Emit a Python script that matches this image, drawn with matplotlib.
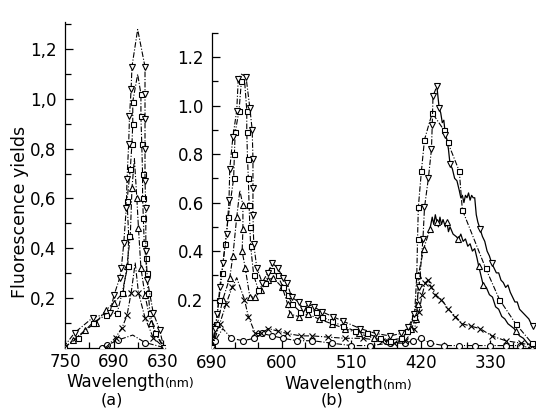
import matplotlib
matplotlib.use("Agg")
import matplotlib.pyplot as plt
import numpy as np

plt.rcParams['font.family'] = ['DejaVu Sans']

# ---------------- panel (a): 750-630 nm ----------------
nv_a_nm = [752, 738, 716, 695, 690, 683, 681, 678, 675, 674, 672, 671, 669, 668, 661,
           652, 652, 652, 652, 652, 651, 651, 649, 642, 634, 629]
nv_a_val = [0.0, 0.06, 0.12, 0.14, 0.21, 0.28, 0.32, 0.42, 0.56, 0.68, 0.82, 0.93, 1.04, 1.13, 1.28,
            1.13, 1.02, 0.92, 0.80, 0.67, 0.56, 0.39, 0.27, 0.14, 0.07, 0.0]

sq_a_nm = [751, 734, 716, 700, 686, 680, 673, 672, 674, 670, 668, 667, 667, 661,
           657, 657, 656, 655, 655, 654, 653, 651, 650, 648, 646, 640, 629]
sq_a_val = [0.0, 0.04, 0.10, 0.13, 0.14, 0.22, 0.33, 0.45, 0.59, 0.72, 0.82, 0.90, 0.99, 1.10,
            1.02, 0.93, 0.82, 0.70, 0.60, 0.52, 0.42, 0.36, 0.30, 0.22, 0.14, 0.06, 0.0]

tr_a_nm = [750, 740, 725, 712, 700, 690, 679, 674, 670, 668, 665, 662, 660, 657, 652, 645, 629]
tr_a_val = [0.0, 0.03, 0.07, 0.10, 0.15, 0.18, 0.22, 0.33, 0.45, 0.64, 0.76, 0.60, 0.48, 0.32, 0.21, 0.10, 0.0]

x_a_nm = [700, 688, 680, 674, 669, 664, 660, 652, 642, 629]
x_a_val = [0.0, 0.04, 0.08, 0.13, 0.22, 0.34, 0.22, 0.12, 0.04, 0.0]

o_a_nm = [705, 698, 685, 667, 652, 629]
o_a_val = [0.0, 0.01, 0.03, 0.05, 0.02, 0.0]

# ---------------- panel (b): 690-270 nm ----------------
nv_b_nm = [690, 686, 683, 680, 676, 671, 668, 667, 663, 658, 656, 652, 646, 641, 638, 637, 637, 637,
           636, 632, 625, 618, 612, 605, 598, 593, 587, 578, 572, 566, 558, 548, 534, 520, 498, 478,
           460, 445, 436, 428, 422, 417, 415, 410, 406, 405, 404, 399]
nv_b_val = [0.0, 0.08, 0.14, 0.25, 0.35, 0.47, 0.61, 0.74, 0.87, 0.98, 1.11, 1.13, 1.12, 0.99, 0.90, 0.78, 0.66, 0.55,
            0.43, 0.33, 0.27, 0.31, 0.35, 0.33, 0.29, 0.27, 0.21, 0.19, 0.16, 0.18, 0.17, 0.15, 0.13, 0.11, 0.08, 0.06,
            0.05, 0.06, 0.085, 0.14, 0.25, 0.45, 0.58, 0.70, 0.82, 0.92, 1.04, 1.08]
# noisy recorder trace on the right of the 400 nm band
nv_b_trace_nm = [399, 396, 394, 392, 390, 388, 386, 384, 382, 379, 376, 373, 370, 368, 366, 364, 362, 360, 358, 356,
                 354, 352, 350, 348, 346, 343, 340, 337, 334, 331, 328, 325, 322, 319, 316, 313, 310, 307, 304, 301,
                 298, 295, 292, 289, 286, 283, 280, 277, 274]
nv_b_trace_val = [1.08, 0.99, 0.97, 0.93, 0.94, 0.88, 0.86, 0.82, 0.76, 0.74, 0.70, 0.69, 0.65, 0.62, 0.63, 0.60, 0.63, 0.62, 0.64, 0.61,
                  0.63, 0.62, 0.62, 0.55, 0.52, 0.49, 0.46, 0.44, 0.40, 0.38, 0.35, 0.33, 0.31, 0.31, 0.28, 0.27, 0.25, 0.26, 0.23, 0.21,
                  0.19, 0.19, 0.16, 0.15, 0.14, 0.13, 0.12, 0.10, 0.09]
nv_b_mk_nm = [396, 388, 382, 343, 328, 274]
nv_b_mk_val = [0.99, 0.88, 0.76, 0.49, 0.35, 0.09]

sq_b_nm = [690, 685, 681, 677, 673, 669, 662, 661, 660, 655, 652, 648, 645, 645, 644, 643, 642, 641, 640,
           636, 630, 622, 613, 605, 598, 592, 586, 576, 566, 555, 548, 535, 520, 505, 490, 472, 460, 445,
           437, 428, 425, 424, 423, 419, 415, 405, 390, 385, 370, 366, 336, 318, 297, 276]
sq_b_val = [0.0, 0.10, 0.20, 0.31, 0.43, 0.54, 0.70, 0.80, 0.89, 0.98, 1.10, 1.11, 0.98, 0.89, 0.78, 0.70, 0.59, 0.50, 0.42,
            0.30, 0.24, 0.27, 0.32, 0.30, 0.25, 0.22, 0.18, 0.15, 0.16, 0.15, 0.13, 0.11, 0.09, 0.07, 0.06, 0.04, 0.03, 0.04,
            0.07, 0.13, 0.30, 0.45, 0.58, 0.73, 0.86, 0.97, 0.90, 0.85, 0.73, 0.57, 0.33, 0.20, 0.10, 0.02]

tr_b_nm = [690, 683, 676, 667, 663, 658, 654, 650, 650, 651, 647, 641, 634, 626, 618, 611, 599, 592, 589,
           578, 566, 552, 535, 518, 500, 480, 462, 445, 432, 426, 424, 423, 416, 408]
tr_b_val = [0.0, 0.10, 0.20, 0.29, 0.38, 0.54, 0.65, 0.59, 0.49, 0.40, 0.33, 0.21, 0.21, 0.24, 0.28, 0.29, 0.25, 0.18, 0.14,
            0.13, 0.14, 0.12, 0.10, 0.08, 0.06, 0.04, 0.03, 0.04, 0.08, 0.12, 0.18, 0.30, 0.41, 0.49]
tr_b_trace_nm = [408, 405, 403, 401, 399, 397, 395, 393, 391, 388, 386, 384, 382, 378, 374, 371, 368, 365, 362, 359,
                 356, 353, 350, 347, 345, 342, 339, 335, 331, 327, 323, 319, 315, 311, 307, 303, 299, 297, 292, 287,
                 282, 278, 274]
tr_b_trace_val = [0.49, 0.54, 0.51, 0.55, 0.52, 0.50, 0.54, 0.51, 0.53, 0.50, 0.52, 0.48, 0.50, 0.47, 0.46, 0.45, 0.47, 0.44, 0.45, 0.42,
                  0.43, 0.40, 0.41, 0.37, 0.34, 0.30, 0.26, 0.25, 0.22, 0.21, 0.17, 0.16, 0.13, 0.12, 0.10, 0.09, 0.08, 0.07, 0.05, 0.04,
                  0.02, 0.01, 0.0]
tr_b_mk_nm = [399, 386, 371, 345, 339, 297]
tr_b_mk_val = [0.52, 0.52, 0.45, 0.34, 0.26, 0.07]

x_b_nm = [690, 680, 672, 664, 658, 648, 643, 634, 626, 617, 605, 593, 575, 560, 540, 518, 495, 470, 455,
          440, 428, 422, 418, 414, 410, 406, 401, 393, 384, 375, 366, 355, 343, 328, 310, 290, 276]
x_b_val = [0.0, 0.10, 0.18, 0.25, 0.29, 0.20, 0.13, 0.06, 0.06, 0.08, 0.07, 0.06, 0.05, 0.05, 0.045, 0.04, 0.04, 0.03, 0.02,
           0.03, 0.08, 0.15, 0.22, 0.27, 0.28, 0.25, 0.22, 0.20, 0.16, 0.13, 0.10, 0.09, 0.08, 0.05, 0.03, 0.02, 0.01]

o_b_nm = [690, 686, 676, 665, 650, 635, 625, 612, 598, 580, 560, 535, 510, 485, 460, 440, 430, 419,
          408, 390, 370, 350, 330, 310, 292, 276]
o_b_val = [0.0, 0.03, 0.08, 0.04, 0.03, 0.04, 0.06, 0.05, 0.04, 0.03, 0.03, 0.02, 0.01, 0.01, 0.02, 0.02, 0.03, 0.04,
           0.02, 0.01, 0.01, 0.01, 0.01, 0.01, 0.01, 0.0]

# ---------------- drawing ----------------
W, H = 536, 409
fig = plt.figure(figsize=(W / 100, H / 100), dpi=100)
ax_a = fig.add_axes([65 / W, (H - 347.5) / H, 99.6 / W, 325.5 / H])
ax_b = fig.add_axes([212 / W, (H - 348) / H, 323 / W, 315 / H])

dash = (0, (5, 1.6, 1, 1.6))
marks = {'v': 4.3, 's': 3.6, '^': 4.3, 'x': 3.8, 'o': 4.3}


def series(ax, nm, val, m, ls=dash):
    nm = np.asarray(nm, float)
    val = np.asarray(val, float)
    top = int(np.argmax(val))
    every = [i for i in range(len(nm)) if i != top]
    ax.plot(nm, val, color='black', lw=0.8, ls=ls, marker=m, ms=marks[m],
            mfc='white', mec='black', mew=0.8, markevery=every, zorder=3)


series(ax_a, o_a_nm, o_a_val, 'o')
series(ax_a, x_a_nm, x_a_val, 'x')
series(ax_a, tr_a_nm, tr_a_val, '^')
series(ax_a, sq_a_nm, sq_a_val, 's')
series(ax_a, nv_a_nm, nv_a_val, 'v')

series(ax_b, o_b_nm, o_b_val, 'o')
series(ax_b, x_b_nm, x_b_val, 'x')
series(ax_b, tr_b_nm, tr_b_val, '^')
series(ax_b, sq_b_nm, sq_b_val, 's')
series(ax_b, nv_b_nm, nv_b_val, 'v')
ax_b.plot(nv_b_trace_nm, nv_b_trace_val, color='black', lw=0.9, zorder=2)
ax_b.plot(tr_b_trace_nm, tr_b_trace_val, color='black', lw=0.9, zorder=2)
ax_b.plot(nv_b_mk_nm, nv_b_mk_val, ls='none', marker='v', ms=marks['v'], mfc='white', mec='black', mew=0.8, zorder=3)
ax_b.plot(tr_b_mk_nm, tr_b_mk_val, ls='none', marker='^', ms=marks['^'], mfc='white', mec='black', mew=0.8, zorder=3)

yticks = [0.2, 0.4, 0.6, 0.8, 1.0, 1.2]
ax_a.set_xlim(750, 628)
ax_a.set_ylim(0, 1.31)
ax_a.set_xticks([750, 690, 630])
ax_a.set_xticks([720, 660], minor=True)
ax_a.set_yticks(yticks)
ax_a.set_yticklabels(['0,2', '0,4', '0,6', '0,8', '1,0', '1,2'])

ax_b.set_xlim(690, 272)
ax_b.set_ylim(0, 1.27)
ax_b.set_xticks([690, 600, 510, 420, 330])
ax_b.set_xticks([660, 630, 570, 540, 480, 450, 390, 360, 300], minor=True)
ax_b.set_yticks(yticks)
ax_b.set_yticklabels(['0.2', '0.4', '0.6', '0.8', '1.0', '1.2'])

for ax in (ax_a, ax_b):
    ax.set_yticks([0.1, 0.3, 0.5, 0.7, 0.9, 1.1, 1.3], minor=True)
    ax.spines['top'].set_visible(False)
    ax.spines['right'].set_visible(False)
    ax.spines['left'].set_linewidth(0.9)
    ax.spines['bottom'].set_linewidth(0.9)
    ax.tick_params(which='both', direction='in', labelsize=12, width=0.9)
    ax.tick_params(which='major', length=6)
    ax.tick_params(which='minor', length=4)
    ax.tick_params(axis='y', pad=6)
    ax.tick_params(axis='x', pad=4)
    ax.patch.set_alpha(0)

ax_b.set_zorder(ax_a.get_zorder() - 1)

fig.text(20 / W, 1 - 212 / H, 'Fluorescence yields', rotation=90, ha='center', va='center', fontsize=12.5)
fig.text(165 / W, 1 - 387 / H, 'Wavelength', ha='right', va='baseline', fontsize=12)
fig.text(165 / W, 1 - 387 / H, '(nm)', ha='left', va='baseline', fontsize=9)
fig.text(383 / W, 1 - 389 / H, 'Wavelength', ha='right', va='baseline', fontsize=12)
fig.text(383 / W, 1 - 389 / H, '(nm)', ha='left', va='baseline', fontsize=9)
fig.text(112 / W, 1 - 400 / H, '(a)', ha='center', va='center', fontsize=11.5)
fig.text(332 / W, 1 - 400 / H, '(b)', ha='center', va='center', fontsize=11.5)

fig.savefig('out.png', dpi=100)
